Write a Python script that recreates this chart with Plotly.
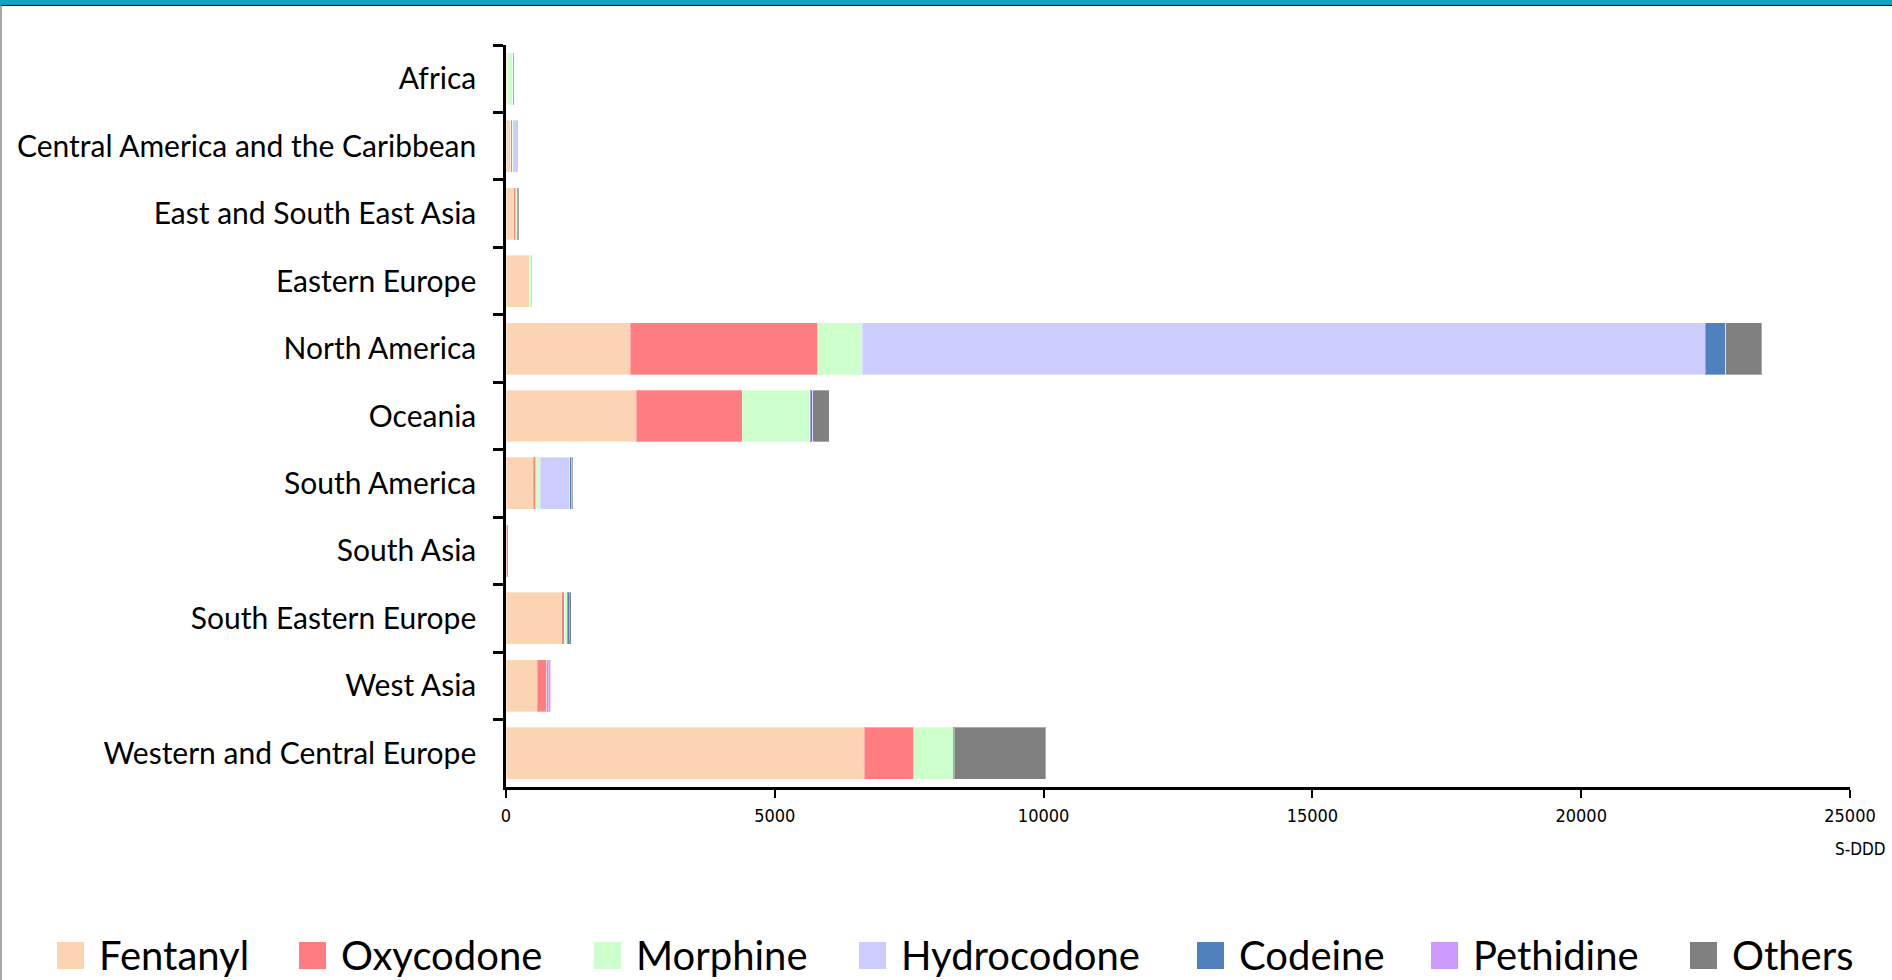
import plotly.graph_objects as go

# ---------------- data ----------------
regions = [
    "Africa",
    "Central America and the Caribbean",
    "East and South East Asia",
    "Eastern Europe",
    "North America",
    "Oceania",
    "South America",
    "South Asia",
    "South Eastern Europe",
    "West Asia",
    "Western and Central Europe",
]

fentanyl    = [15, 90, 140, 440, 2310, 2420, 510, 8, 1035, 585, 6660]
oxycodone   = [5, 25, 45, 5, 3490, 1970, 45, 2, 45, 170, 925]
morphine    = [110, 15, 25, 20, 830, 1260, 80, 10, 60, 3, 730]
hydrocodone = [0, 75, 0, 0, 15680, 10, 550, 0, 0, 5, 0]
codeine     = [5, 5, 15, 10, 370, 40, 40, 5, 32, 20, 20]
pethidine   = [2, 15, 5, 2, 10, 5, 5, 2, 3, 50, 5]
others      = [8, 5, 15, 10, 670, 305, 25, 3, 40, 5, 1700]

series_names = ["Fentanyl", "Oxycodone", "Morphine", "Hydrocodone",
                "Codeine", "Pethidine", "Others"]
series_values = [fentanyl, oxycodone, morphine, hydrocodone,
                 codeine, pethidine, others]
series_colors = ["#FBD4B4", "#FF7C80", "#CCFFCC", "#CCCCFF",
                 "#4F81BD", "#CC99FF", "#808080"]

x_ticks = [0, 5000, 10000, 15000, 20000, 25000]
x_unit = "S-DDD"

# ---------------- layout geometry (pixels) ----------------
W, H = 1892, 980
ML, MR, MT, MB = 506, 42, 45, 193
PW = W - ML - MR
PH = H - MT - MB


def px2x(px):
    return (px - ML) / PW


def py2y(py):
    return (H - MB - py) / PH


fig = go.Figure()
for name, vals, col in zip(series_names, series_values, series_colors):
    fig.add_trace(go.Bar(
        y=regions, x=vals, name=name, orientation="h",
        marker=dict(color=col, line=dict(color="rgba(255,255,255,0.35)", width=1)),
        showlegend=False,
    ))

shapes = []
annotations = []

# top blue band and left border
shapes.append(dict(type="rect", xref="paper", yref="paper",
                   x0=px2x(0), x1=px2x(W), y0=py2y(5), y1=py2y(-2),
                   fillcolor="#15A0C9", line=dict(width=0), layer="above"))
shapes.append(dict(type="line", xref="paper", yref="paper",
                   x0=px2x(0), x1=px2x(W), y0=py2y(5.5), y1=py2y(5.5),
                   line=dict(color="#000000", width=1.2), layer="above"))
shapes.append(dict(type="line", xref="paper", yref="paper",
                   x0=px2x(1), x1=px2x(1), y0=py2y(5), y1=py2y(H + 2),
                   line=dict(color="#8a8a8a", width=1.5), layer="above"))

# custom legend
legend_left = [57, 299, 594, 859, 1197, 1431, 1690]
for name, col, lx in zip(series_names, series_colors, legend_left):
    shapes.append(dict(type="rect", xref="paper", yref="paper",
                       x0=px2x(lx), x1=px2x(lx + 27),
                       y0=py2y(969), y1=py2y(942),
                       fillcolor=col, line=dict(width=0)))
    annotations.append(dict(text=name, xref="paper", yref="paper",
                            x=px2x(lx + 40), y=py2y(955),
                            xanchor="left", yanchor="middle", showarrow=False,
                            font=dict(family="Lato, Open Sans, sans-serif",
                                      size=40, color="#000000")))

annotations.append(dict(text=x_unit, xref="paper", yref="paper",
                        x=px2x(1888), y=py2y(849), xanchor="right", yanchor="middle",
                        showarrow=False,
                        font=dict(family="DejaVu Sans Condensed, Liberation Sans Narrow, DejaVu Sans",
                                  size=17, color="#000000")))

fig.update_layout(
    width=W, height=H,
    barmode="stack", bargap=0.23,
    plot_bgcolor="white", paper_bgcolor="white",
    margin=dict(l=ML, r=MR, t=MT, b=MB, pad=0),
    shapes=shapes, annotations=annotations,
    showlegend=False,
)

fig.update_xaxes(
    range=[0, 25000], tickvals=x_ticks, ticktext=[str(v) for v in x_ticks],
    showgrid=False, zeroline=False,
    showline=True, linecolor="#000000", linewidth=3,
    ticks="outside", ticklen=8, tickwidth=2, tickcolor="#000000",
    ticklabelstandoff=2,
    tickfont=dict(family="DejaVu Sans Condensed, Liberation Sans Narrow, DejaVu Sans",
                  size=18, color="#000000"),
)
fig.update_yaxes(
    categoryorder="array", categoryarray=regions, autorange="reversed",
    showgrid=False, zeroline=False,
    showline=True, linecolor="#000000", linewidth=2.5,
    ticks="outside", tickson="boundaries", ticklen=10, tickwidth=2.5, tickcolor="#000000",
    ticklabelstandoff=21,
    tickfont=dict(family="Lato, Open Sans, sans-serif", size=30, color="#000000"),
)

fig.write_html(
    "out.html",
    config={"displayModeBar": False},
    post_script="document.body.style.margin='0';document.body.style.overflow='hidden';",
)
